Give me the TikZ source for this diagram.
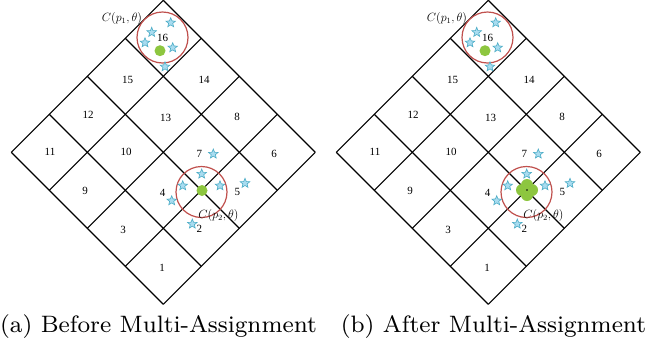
\documentclass[tikz,border=0pt]{standalone}
\usepackage{fontspec}
\usepackage{graphicx}
\newfontfamily\numfont{Liberation Serif}
\usetikzlibrary{shapes.geometric}
\definecolor{circred}{HTML}{C0504D}
\definecolor{dotgreen}{HTML}{8DC63F}
\definecolor{starfill}{HTML}{A9DCF0}
\definecolor{stardraw}{HTML}{4BACC6}
\begin{document}
\begin{tikzpicture}[x=1pt,y=-1pt,
  gridline/.style={line width=1.1pt, black},
  cellnum/.style={font=\numfont\fontsize{11}{13}\selectfont, inner sep=0},
  starmark/.style={star, star points=5, star point ratio=2.3, minimum size=10pt, inner sep=0, fill=starfill, draw=stardraw, line width=0.6pt},
  rangecirc/.style={circle, draw=circred, line width=1.2pt, minimum size=51pt, inner sep=0},
  gdot/.style={circle, fill=dotgreen, minimum size=11pt, inner sep=0},
  petal/.style={circle, fill=dotgreen, minimum size=12pt, inner sep=0},
  clabel/.style={font=\fontsize{11.5}{13}\selectfont, inner sep=0},
  captext/.style={font=\fontsize{8}{10}\selectfont, inner sep=0}]
\fill[white] (0,0) rectangle (656,346);
\useasboundingbox (0,0) rectangle (656,346);
\foreach \p/\dx in {L/0,R/325}{
\begin{scope}[xshift=\dx pt, name prefix=\p-]
  % grid
  \foreach \k in {0,...,4}{
    \draw[gridline] (163.3-38*\k, 38*\k+0.3) -- ++(152,152);
    \draw[gridline] (163.3+38*\k, 38*\k+0.3) -- ++(-152,152);
  }
  % range circles
  \node[rangecirc] (c1) at (162.5,37.5) {};
  \node[rangecirc] (c2) at (201.5,192) {};
  % cell numbers
  \foreach \n/\x/\y in {16/162.7/37.7, 15/127.7/80, 14/204/80, 12/88/115, 13/165.7/117.7, 8/237/117, 11/50/152, 10/126/152, 7/199.3/154, 6/274/154, 9/85/190.7, 4/162.7/193.3, 5/237.3/191.7, 3/123/230, 2/199.3/229.3, 1/162/268}{
    \node[cellnum] (n\n) at (\x,\y) {\n};
  }
  % green points
  \ifnum\dx=0
    \node[gdot] (g1) at (160,50.7) {};
    \node[gdot] (g2) at (202,190.5) {};
  \else
    \node[gdot] (g1) at (160,50.7) {};
    \node[petal] (g2a) at (202,185) {};
    \node[petal] (g2b) at (197,190) {};
    \node[petal] (g2c) at (207,190) {};
    \node[petal] (g2d) at (202,195) {};
    \fill[black] (202,190) circle (0.9);
  \fi
  % stars
  \foreach \i/\x/\y in {a/170.7/22.7, b/151.7/32.3, c/145/42.7, d/172.7/47.7, e/165/66.7, f/201.7/174, g/182.7/185.7, h/220/185.7, i/213.3/154, j/245/183.3, k/171.7/200.7, l/192.3/224}{
    \node[starmark] (s\i) at (\x,\y) {};
  }
  % circle labels
  \node[clabel] (cl1) at (122,18.5) {$C(p_{1},\theta)$};
  \node[clabel] (cl2) at (218.5,215.5) {$C(p_{2},\theta)$};
\end{scope}
}
\node[captext] (capa) at (158.5,326.5) {\scalebox{2.97}{(a) Before Multi-Assignment}};
\node[captext] (capb) at (493.5,326.5) {\scalebox{2.97}{(b) After Multi-Assignment}};
\end{tikzpicture}
\end{document}
